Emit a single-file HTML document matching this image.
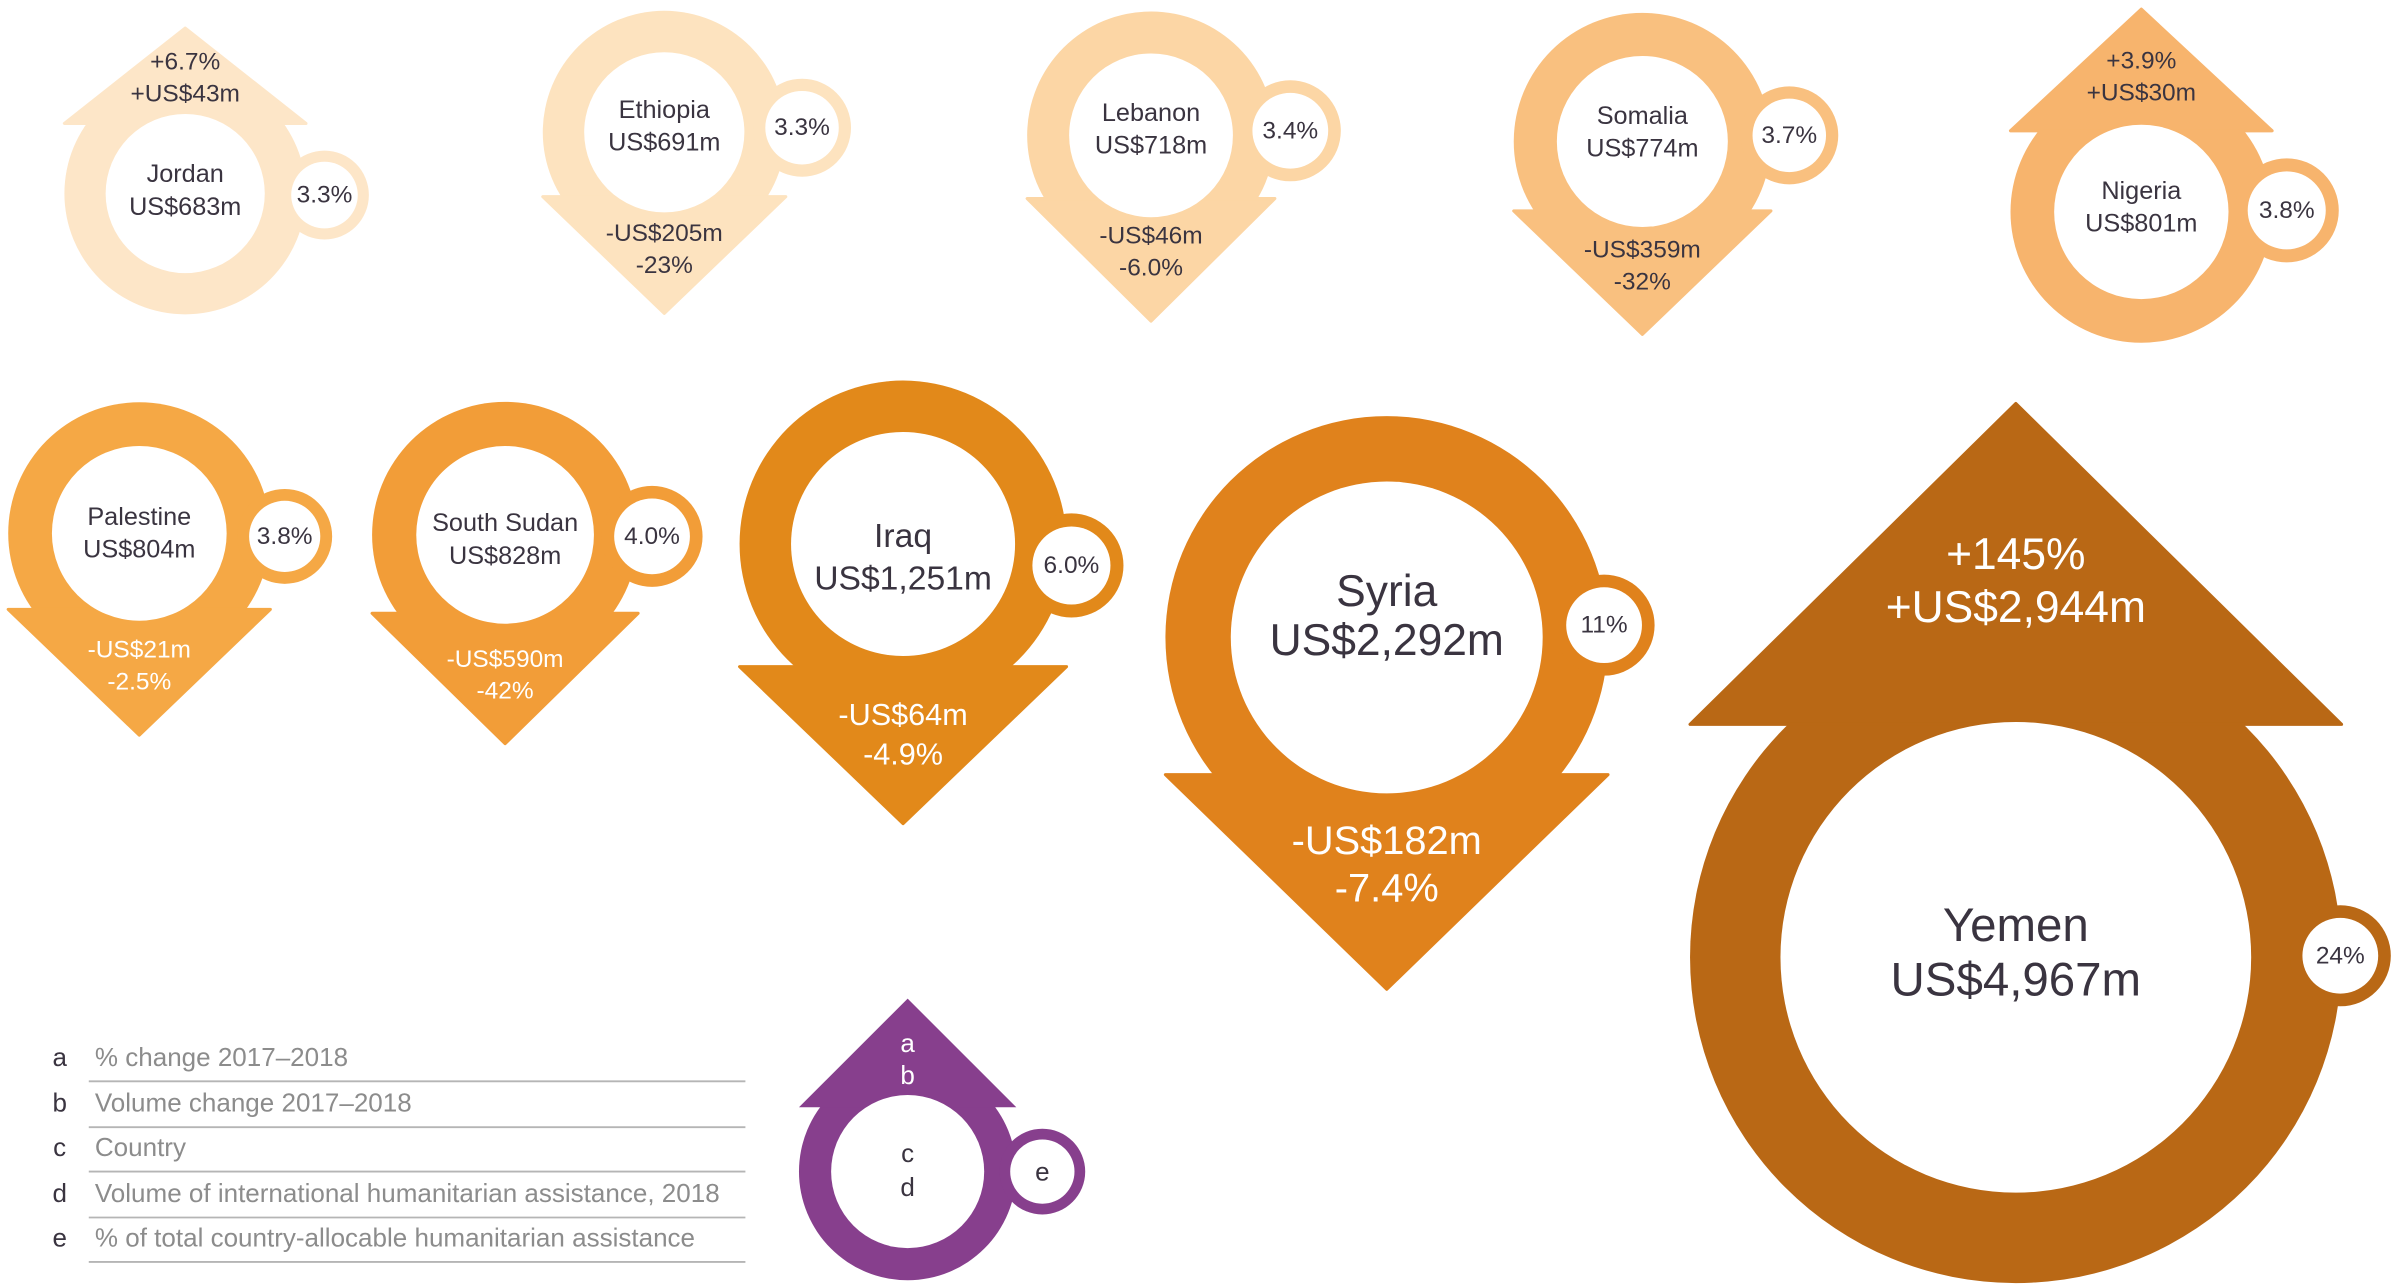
<!DOCTYPE html>
<html><head><meta charset="utf-8">
<style>
html,body{margin:0;padding:0;background:#fff;}
svg{display:block;}
text{font-family:"Liberation Sans",sans-serif;}
</style></head>
<body>
<svg id="chart" width="2400" height="1284" viewBox="0 0 1568 838" xmlns="http://www.w3.org/2000/svg">
<g id="legend-list"></g>
<g id="glyphs"></g>
</svg>
<script>
// ---- data ----
const countries = ["Jordan","Ethiopia","Lebanon","Somalia","Nigeria","Palestine","South Sudan","Iraq","Syria","Yemen"];
const volumes = [683,691,718,774,801,804,828,1251,2292,4967];
const volumeChange = [43,-205,-46,-359,30,-21,-590,-64,-182,2944];
const pctChange = [6.7,-23,-6.0,-32,3.9,-2.5,-42,-4.9,-7.4,145];
const shareLabels = ["3.3%","3.3%","3.4%","3.7%","3.8%","3.8%","4.0%","6.0%","11%","24%"];
const pctLabels = ["+6.7%","-23%","-6.0%","-32%","+3.9%","-2.5%","-42%","-4.9%","-7.4%","+145%"];
const volLabels = ["US$683m","US$691m","US$718m","US$774m","US$801m","US$804m","US$828m","US$1,251m","US$2,292m","US$4,967m"];
const changeLabels = ["+US$43m","-US$205m","-US$46m","-US$359m","+US$30m","-US$21m","-US$590m","-US$64m","-US$182m","+US$2,944m"];
const legendKeys = ["a","b","c","d","e"];
const legendTexts = ["% change 2017–2018","Volume change 2017–2018","Country","Volume of international humanitarian assistance, 2018","% of total country-allocable humanitarian assistance"];

// ---- layout (not data) ----
const layout = [
 {cx:121,cy:126,b:0.58,t:1.37,sx:212,sy:127,sR:29,fs:16.5,fa:16,lh:1.3,td:-2,ad:-6,col:"#fde6c8",tc:"#3a3440"},
 {cx:434,cy:86,b:0.53,t:1.49,sx:524,sy:83,sR:32,fs:16.5,fa:16,lh:1.3,td:-4,ad:0,col:"#fde3bf",tc:"#3a3440"},
 {cx:752,cy:88,b:0.51,t:1.5,sx:843,sy:85,sR:33,fs:16.5,fa:16,lh:1.3,td:-4,ad:-2,col:"#fcd6a5",tc:"#3a3440"},
 {cx:1073,cy:92,b:0.54,t:1.5,sx:1169,sy:88,sR:32,fs:16.5,fa:16,lh:1.3,td:-6,ad:0,col:"#f9c07f",tc:"#3a3440"},
 {cx:1399,cy:138,b:0.62,t:1.55,sx:1494,sy:137,sR:34,fs:16.5,fa:16,lh:1.3,td:-3,ad:-5,col:"#f7b46d",tc:"#3a3440"},
 {cx:91,cy:348,b:0.58,t:1.54,sx:186,sy:350,sR:31,fs:16.5,fa:16,lh:1.3,td:0,ad:3,col:"#f5a845",tc:"#fff"},
 {cx:330,cy:349,b:0.59,t:1.57,sx:426,sy:350,sR:33,fs:16.5,fa:16,lh:1.3,td:3,ad:6,col:"#f29d38",tc:"#fff"},
 {cx:590,cy:355,b:0.75,t:1.71,sx:700,sy:369,sR:34,fs:22,fa:20,lh:1.27,td:9,ad:15,col:"#e2891a",tc:"#fff"},
 {cx:906,cy:416,b:0.62,t:1.59,sx:1048,sy:408,sR:33,fs:29,fa:26,lh:1.1,td:-14,ad:5,col:"#e0821c",tc:"#fff"},
 {cx:1317,cy:625,b:0.715,t:1.70,sx:1529,sy:624,sR:33,fs:31,fa:29,lh:1.15,td:-3,ad:-14,col:"#b96815",tc:"#fff"}
];
const NS="http://www.w3.org/2000/svg";
function radius(v){ return 3.02*Math.sqrt(v); }
function mk(tag, attrs, parent){
  const e=document.createElementNS(NS,tag);
  for(const k in attrs) e.setAttribute(k,attrs[k]);
  parent.appendChild(e); return e;
}
function txt(parent,x,y,s,size,fill,anchor){
  const t=mk("text",{x:x,y:y,"font-size":size,fill:fill,"text-anchor":anchor||"middle","dominant-baseline":"central"},parent);
  t.textContent=s; return t;
}
function glyph(parent,L,R,up,color){
  const r=0.76*R-8;
  const by = up ? L.cy-L.b*R : L.cy+L.b*R;
  const ty = up ? L.cy-L.t*R : L.cy+L.t*R;
  const ring=mk("circle",{cx:L.cx,cy:L.cy,r:R,fill:color},parent);
  
  
  const ar=mk("polygon",{points:(L.cx-R)+","+by+" "+(L.cx+R)+","+by+" "+L.cx+","+ty,fill:color,"stroke":color,"stroke-width":2,"stroke-linejoin":"round"},parent);
  
  
  const inner=mk("circle",{cx:L.cx,cy:L.cy,r:r,fill:"#fff"},parent);
  
  
  const so=mk("circle",{cx:L.sx,cy:L.sy,r:L.sR,fill:color},parent);
  
  
  const si=mk("circle",{cx:L.sx,cy:L.sy,r:L.sR*0.75,fill:"#fff"},parent);
  
  
  return {by,ty};
}
const G=document.getElementById("glyphs");
countries.forEach((c,i)=>{
  const L=layout[i]; const R=radius(volumes[i]); const up=volumeChange[i]>0;
  const g=mk("g",{},G);
  
  
  const p=glyph(g,L,R,up,L.col);
  const lh=L.fs*L.lh;
  const cy=L.cy+L.td;
  const t1=txt(g,L.cx,cy-lh/2,c,L.fs,"#3a3440");
  
  
  const t2=txt(g,L.cx,cy+lh/2,volLabels[i],L.fs,"#3a3440");
  
  
  const sl=txt(g,L.sx,L.sy,shareLabels[i],16,"#3a3440");
  
  
  const ah=L.fa*(L.fa>20?1.2:1.3);
  let mid;
  if(up){ mid=(p.ty+p.by)/2+ (p.by-p.ty)*0.12; }
  else { mid=L.cy+R*0.76+ (p.ty-(L.cy+R*0.76))*0.28; }
  mid+=L.ad;
  const first = up ? pctLabels[i] : changeLabels[i];
  const second = up ? changeLabels[i] : pctLabels[i];
  const a1=txt(g,L.cx,mid-ah/2,first,L.fa,L.tc);
  
  
  const a2=txt(g,L.cx,mid+ah/2,second,L.fa,L.tc);
  
  
});
// key glyph
(function(){
  const L={cx:593,cy:765,sx:681,sy:765};
  const g=mk("g",{},G);
  
  
  const R=71; const col="#873f8d";
  mk("circle",{cx:L.cx,cy:L.cy,r:R,fill:col},g);
  mk("polygon",{points:(L.cx-R)+",723 "+(L.cx+R)+",723 "+L.cx+",652",fill:col},g);
  mk("circle",{cx:L.cx,cy:L.cy,r:50,fill:"#fff"},g);
  mk("circle",{cx:L.sx,cy:L.sy,r:28,fill:col},g);
  mk("circle",{cx:L.sx,cy:L.sy,r:21,fill:"#fff"},g);
  txt(g,593,681,"a",17,"#fff"); txt(g,593,702,"b",17,"#fff");
  txt(g,593,753,"c",17,"#3a3440"); txt(g,593,775,"d",17,"#3a3440");
  txt(g,681,765,"e",17,"#3a3440");
})();
// legend list
const LG=document.getElementById("legend-list");
legendKeys.forEach((k,i)=>{
  const y=[690,720,749,779,808][i];
  const row=mk("g",{},LG);
  
  
  txt(row,39,y,k,17,"#3a3440");
  txt(row,62,y,legendTexts[i],17,"#8c8c8c","start");
  mk("line",{x1:58,x2:487,y1:y+16,y2:y+16,stroke:"#b5b5b5","stroke-width":1.2},row);
});
</script>
</body></html>
